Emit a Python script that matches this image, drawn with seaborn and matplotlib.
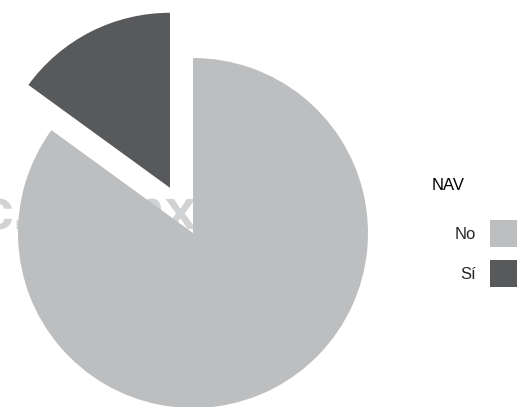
import matplotlib
matplotlib.use("Agg")
import matplotlib.pyplot as plt
import seaborn as sns

sns.set_theme(style="white")
plt.rcParams['font.family'] = ['Liberation Sans', 'DejaVu Sans']

categories = ["No", "Sí"]
values = [85, 15]
colors = ["#bdbec0", "#58595b"]
legend_title = "NAV"
watermark = "c.ob.mx"

fig = plt.figure(figsize=(5.22, 4.07), dpi=100)
ax = fig.add_axes([0, 0, 1, 1])

wedges, _ = ax.pie(values, colors=colors, startangle=90, counterclock=False,
                   explode=[0, 0.29], radius=1,
                   wedgeprops=dict(linewidth=0, zorder=2))
ax.set_aspect('auto')
ax.set_xlim(-193/175, (522-193)/175)
ax.set_ylim(-174/175, 233/175)
ax.axis('off')

ax.text(-18/175 - 193/175, 4/175, watermark, ha='left', va='baseline', fontsize=41,
        fontweight='bold', color='#d1d2d4', zorder=1,
        family=['Liberation Sans', 'DejaVu Sans'])

leg = ax.legend(wedges, categories, loc='upper right',
                bbox_to_anchor=(517/522, 1 - 220/407), frameon=False,
                markerfirst=False, fontsize=12,
                handlelength=1.62, handleheight=2.115, labelspacing=0.78,
                handletextpad=0.84, borderpad=0, borderaxespad=0)
fig.text(432/522, 1 - 185/407, legend_title, ha='left', va='center', fontsize=12,
         color='#000000')
fig.savefig("out.png", dpi=100)
